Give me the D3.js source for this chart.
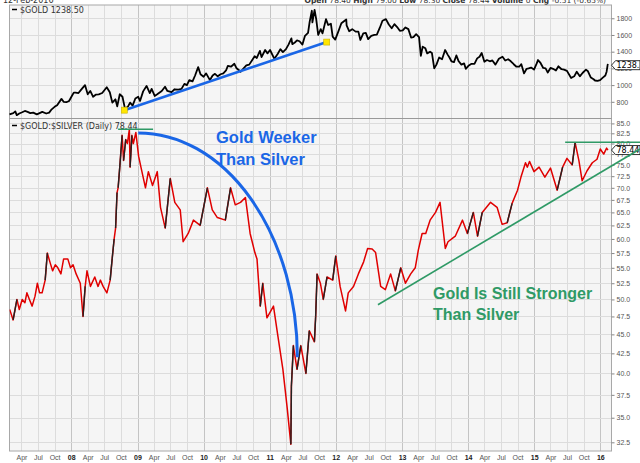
<!DOCTYPE html>
<html><head><meta charset="utf-8">
<script src="https://cdn.jsdelivr.net/npm/d3@7/dist/d3.min.js"></script>
<style>body{margin:0;background:#fff}svg{display:block}</style>
</head><body>
<svg id="c" width="640" height="463"></svg>
<script>
// ---------- DATA ----------
const goldDates = ["2007-01-25","2007-02-15","2007-02-26","2007-03-06","2007-03-20","2007-04-05","2007-04-20","2007-05-05","2007-05-20","2007-06-05","2007-06-25","2007-07-10","2007-07-25","2007-08-16","2007-09-01","2007-09-15","2007-10-01","2007-10-15","2007-11-08","2007-11-20","2007-12-05","2007-12-20",
"2008-01-02","2008-01-15","2008-01-25","2008-02-10","2008-02-25","2008-03-17","2008-04-01","2008-04-15","2008-05-01","2008-05-15","2008-06-01","2008-06-20","2008-07-15","2008-08-01","2008-08-15","2008-09-01","2008-09-11","2008-09-25","2008-10-10","2008-10-24","2008-11-10","2008-11-21","2008-12-05","2008-12-20",
"2009-01-05","2009-01-15","2009-02-01","2009-02-20","2009-03-10","2009-03-20","2009-04-06","2009-04-20","2009-05-15","2009-06-02","2009-06-15","2009-07-08","2009-07-25","2009-08-15","2009-09-01","2009-09-17","2009-10-01","2009-10-14","2009-11-01","2009-11-15","2009-12-02","2009-12-15",
"2010-01-01","2010-01-15","2010-02-05","2010-02-20","2010-03-05","2010-03-20","2010-04-05","2010-04-20","2010-05-05","2010-05-15","2010-06-01","2010-06-20","2010-07-01","2010-07-25","2010-08-10","2010-08-25","2010-09-10","2010-09-25","2010-10-10","2010-10-22","2010-11-08","2010-11-17","2010-12-07","2010-12-20",
"2011-01-03","2011-01-27","2011-02-15","2011-03-01","2011-03-15","2011-04-01","2011-04-15","2011-05-01","2011-05-06","2011-05-20","2011-06-01","2011-06-15","2011-07-01","2011-07-15","2011-08-01","2011-08-10","2011-08-22","2011-08-25","2011-09-06","2011-09-15","2011-09-26","2011-10-10","2011-10-20","2011-11-08","2011-11-20","2011-12-05","2011-12-15","2011-12-29",
"2012-01-15","2012-02-01","2012-02-28","2012-03-01","2012-03-15","2012-04-01","2012-04-20","2012-05-05","2012-05-16","2012-06-01","2012-06-15","2012-06-28","2012-07-15","2012-08-01","2012-08-15","2012-09-01","2012-09-15","2012-10-04","2012-10-20","2012-11-05","2012-11-20","2012-12-05","2012-12-20",
"2013-01-05","2013-01-20","2013-02-05","2013-02-20","2013-03-05","2013-03-20","2013-04-05","2013-04-15","2013-04-25","2013-05-10","2013-05-20","2013-06-05","2013-06-15","2013-06-28","2013-07-10","2013-07-25","2013-08-10","2013-08-27","2013-09-10","2013-09-20","2013-10-01","2013-10-15","2013-10-28","2013-11-10","2013-11-25","2013-12-10","2013-12-19",
"2014-01-05","2014-01-20","2014-02-05","2014-02-20","2014-03-05","2014-03-17","2014-04-01","2014-04-15","2014-05-01","2014-05-15","2014-06-01","2014-06-20","2014-07-10","2014-07-25","2014-08-10","2014-08-25","2014-09-10","2014-09-25","2014-10-10","2014-10-22","2014-11-06","2014-11-20","2014-12-01","2014-12-15","2014-12-31",
"2015-01-15","2015-01-22","2015-02-05","2015-02-20","2015-03-05","2015-03-17","2015-04-01","2015-04-15","2015-05-01","2015-05-15","2015-06-01","2015-06-15","2015-07-01","2015-07-24","2015-08-10","2015-08-24","2015-09-10","2015-09-25","2015-10-14","2015-10-25","2015-11-10","2015-11-25","2015-12-03","2015-12-17","2015-12-31",
"2016-01-15","2016-01-29","2016-02-05","2016-02-11","2016-02-12"];
const goldValues = [650,665,685,640,660,675,690,680,665,670,650,665,680,660,670,710,740,760,835,800,795,810,
860,910,910,905,945,1000,890,930,860,885,890,905,975,915,790,830,745,890,860,715,745,790,755,840,
860,810,925,990,905,955,870,890,930,980,930,915,950,945,955,1015,1000,1060,1045,1115,1215,1130,
1100,1140,1060,1115,1135,1105,1130,1140,1175,1230,1220,1255,1205,1160,1200,1235,1245,1295,1345,1325,1410,1335,1420,1380,
1420,1315,1375,1430,1395,1430,1485,1560,1490,1510,1535,1525,1485,1590,1625,1760,1890,1750,1900,1790,1600,1670,1620,1790,1720,1735,1580,1545,
1640,1740,1785,1715,1645,1670,1640,1640,1540,1620,1625,1550,1590,1600,1605,1690,1770,1790,1725,1680,1730,1695,1650,
1655,1690,1670,1570,1575,1610,1575,1350,1460,1440,1380,1400,1385,1200,1245,1330,1310,1420,1365,1330,1285,1275,1355,1285,1245,1260,1195,
1235,1255,1255,1320,1340,1385,1280,1300,1285,1295,1245,1315,1340,1295,1310,1285,1250,1220,1220,1250,1140,1195,1200,1210,1185,
1260,1300,1265,1205,1200,1150,1205,1195,1175,1225,1190,1185,1170,1085,1105,1160,1105,1145,1185,1165,1090,1070,1055,1050,1060,
1090,1115,1160,1245,1238.5];

const ratioDates = ["2007-01-26","2007-02-14","2007-03-07","2007-03-20","2007-04-05","2007-04-20","2007-05-01","2007-05-15","2007-05-30","2007-06-15","2007-06-28","2007-07-10","2007-07-24","2007-08-10","2007-08-22","2007-09-05","2007-09-20","2007-10-05","2007-10-19","2007-11-05","2007-11-20","2007-12-13","2007-12-28",
"2008-01-11","2008-01-28","2008-02-20","2008-03-06","2008-03-18","2008-03-28","2008-04-16","2008-05-10","2008-05-28","2008-06-10","2008-06-25","2008-07-16","2008-08-03","2008-08-14","2008-08-25","2008-09-02","2008-09-10","2008-09-16","2008-09-25","2008-10-08","2008-10-16","2008-10-28","2008-11-06","2008-11-17","2008-11-21","2008-12-01","2008-12-09","2008-12-23",
"2009-01-07","2009-01-20","2009-02-14","2009-03-02","2009-03-25","2009-04-20","2009-05-08","2009-06-03","2009-07-01","2009-07-26","2009-08-25","2009-09-10","2009-10-08","2009-11-06","2009-12-13",
"2010-01-22","2010-02-18","2010-03-18","2010-05-01","2010-05-30","2010-06-25","2010-07-24","2010-08-20","2010-09-15","2010-10-12","2010-10-23","2010-11-10","2010-11-24","2010-12-17",
"2011-01-22","2011-02-14","2011-03-15","2011-03-28","2011-04-08","2011-04-28","2011-05-01","2011-05-12","2011-06-01","2011-06-22","2011-07-20","2011-08-08","2011-09-05","2011-09-12","2011-09-20","2011-10-08","2011-10-24","2011-11-14","2011-12-15",
"2012-01-01","2012-01-25","2012-02-24","2012-03-10","2012-04-08","2012-05-05","2012-06-03","2012-06-25","2012-07-20","2012-08-08","2012-09-05","2012-10-01","2012-10-30","2012-11-25","2012-12-25",
"2013-01-20","2013-02-18","2013-03-15","2013-04-01","2013-04-22","2013-05-12","2013-06-05","2013-07-05","2013-07-30","2013-08-28","2013-09-12","2013-10-22","2013-12-01","2013-12-28",
"2014-01-30","2014-02-22","2014-03-20","2014-05-05","2014-06-10","2014-07-08","2014-08-05","2014-09-01","2014-10-01","2014-10-20","2014-11-14","2014-11-24","2014-12-06","2014-12-31",
"2015-01-28","2015-03-01","2015-04-01","2015-05-08","2015-06-07","2015-07-01","2015-07-30","2015-08-15","2015-09-05","2015-09-23","2015-10-20","2015-11-18","2015-12-14",
"2016-01-01","2016-01-20","2016-02-05","2016-02-12"];
const ratioValues = [48.5,47,50,48.5,50,49.5,51,50,49,50.5,52.5,51,51,53,57.5,56,54.5,55.5,55,54,56.5,56.5,55,
55.5,54,52.5,47.5,52,54.5,52,53.5,52,53,52,51,53,56.5,60,62,69,70,74.5,82,76,81,80,83.5,74.5,82,80,82.7,
77,74.5,70,73.5,70.5,73.5,66,62,72,67,65.5,59.5,61,63.5,62.5,
70,65.5,64,63.5,70,66.5,67,68,61,57.5,56.5,49,52.5,47.3,
49,45,40.5,38,36,32.3,38.5,43.5,40.5,43.5,40,45.5,44,47.5,54,52.5,50,53.5,53,
57,52,48.3,51,52,54,56,58.3,58.2,57.6,52,51.5,54,51.3,55,
52.5,54,55,58,61,61,63.5,65,67,58.3,59.5,60.5,63.5,61,
65,60.5,65,67,66,62.7,63,66.8,69.5,72.3,75.5,74.5,75.8,73.5,
74.5,72.3,74.3,69.5,74.5,76.5,75,80.2,76,71.5,73.7,75.5,76.3,
78.7,77.5,78.9,78.44];

const goldTicks = [800,1000,1200,1400,1600,1800];
const ratioTicks = [32.5,35,37.5,40,42.5,45,47.5,50,52.5,55,57.5,60,62.5,65,67.5,70,72.5,75,77.5,80,82.5,85];
const monthNames = ["Jan","Feb","Mar","Apr","May","Jun","Jul","Aug","Sep","Oct","Nov","Dec"];

// annotation anchors (data coordinates)
const goldTrend = [["2008-10-20",700],["2011-11-12",1515]];
const ratioSupport = [["2012-08-21",49.2],["2016-08-10",78.7]];
const ratioResistance = [["2015-06-21",80.3],["2016-08-10",80.3]];
const ratioPeakLine = [["2008-09-16",83.5],["2009-03-28",83.5]];
const ratioArc = [["2009-01-05",82.6],["2011-06-03",42.0]];

// ---------- LAYOUT ----------
const parse = d3.timeParse("%Y-%m-%d");
const L = 9.5, R = 611.5, T = 5, MID = 118, B = 451;
const svg = d3.select("#c");
const FONT = "'DejaVu Sans', Verdana, sans-serif";
const AX = "'Liberation Sans', Arial, sans-serif";

const x = d3.scaleTime().domain([new Date(2007,0,25), new Date(2016,2,3)]).range([L, R]);
const yG = d3.scaleLinear().domain([606, 1959]).range([MID, T]);
const yR = d3.scaleLog().domain([31.66, 86.4]).range([B, MID]);

const gold = goldDates.map((d,i)=>({date:parse(d), v:goldValues[i]}));
const ratio = ratioDates.map((d,i)=>({date:parse(d), v:ratioValues[i]}));

// backgrounds
svg.append("rect").attr("width",640).attr("height",463).attr("fill","#fff");
svg.append("rect").attr("x",L).attr("y",T).attr("width",R-L).attr("height",B-T).attr("fill","#f5f5f5");

// grid
const quarters = d3.timeMonths(new Date(2007,3,1), new Date(2016,1,1), 3);
const grid = svg.append("g");
grid.selectAll("line.v").data(quarters).join("line")
  .attr("x1",d=>Math.round(x(d))+0.5).attr("x2",d=>Math.round(x(d))+0.5)
  .attr("y1",T).attr("y2",B)
  .attr("stroke",d=>d.getMonth()===0?"#c4c4c4":"#dcdcdc").attr("stroke-width",1);
grid.selectAll("line.hg").data(goldTicks).join("line")
  .attr("x1",L).attr("x2",R).attr("y1",d=>Math.round(yG(d))+0.5).attr("y2",d=>Math.round(yG(d))+0.5)
  .attr("stroke","#dcdcdc");
grid.append("g").selectAll("line").data(ratioTicks).join("line")
  .attr("x1",L).attr("x2",R).attr("y1",d=>Math.round(yR(d))+0.5).attr("y2",d=>Math.round(yR(d))+0.5)
  .attr("stroke","#dcdcdc");

// borders
svg.append("rect").attr("x",L).attr("y",T).attr("width",R-L).attr("height",B-T)
  .attr("fill","none").attr("stroke","#a8a8a8");
svg.append("line").attr("x1",L).attr("x2",R).attr("y1",MID+0.5).attr("y2",MID+0.5).attr("stroke","#999");

// axes
function styleAxis(g){
  g.select(".domain").remove();
  g.selectAll(".tick line").attr("stroke","#888");
  g.selectAll("text").attr("font-family",AX).attr("font-size",7).attr("fill","#555");
}
svg.append("g").attr("transform",`translate(${R},0)`)
  .call(d3.axisRight(yG).tickValues(goldTicks).tickSize(3).tickPadding(2).tickFormat(d3.format("d")))
  .call(styleAxis);
svg.append("g").attr("transform",`translate(${R},0)`)
  .call(d3.axisRight(yR).tickValues(ratioTicks).tickSize(3).tickPadding(2).tickFormat(d3.format(".1f")))
  .call(styleAxis);
const xa = svg.append("g").attr("transform",`translate(0,${B})`)
  .call(d3.axisBottom(x).tickValues(quarters).tickSize(0).tickPadding(4)
    .tickFormat(d=>d.getMonth()===0 ? d3.timeFormat("%y")(d) : monthNames[d.getMonth()]))
  .call(styleAxis);
xa.selectAll("text").filter(d=>d.getMonth()===0).attr("font-weight","bold").attr("fill","#222");

// clip
svg.append("clipPath").attr("id","cp").append("rect").attr("x",L).attr("y",T).attr("width",R-L).attr("height",B-T);

// gold line
svg.append("path").datum(gold)
  .attr("d",d3.line().x(d=>x(d.date)).y(d=>yG(d.v)))
  .attr("fill","none").attr("stroke","#000").attr("stroke-width",1.8).attr("stroke-linejoin","round");

// ratio line (red, black on strong up-moves)
const rg = svg.append("g").attr("clip-path","url(#cp)");
rg.append("path").datum(ratio)
  .attr("d",d3.line().x(d=>x(d.date)).y(d=>yR(d.v)))
  .attr("fill","none").attr("stroke","#e00000").attr("stroke-width",1.5).attr("stroke-linejoin","round");
const ups = d3.pairs(ratio).filter(([a,b])=>b.v > a.v*1.06);
rg.selectAll("line.up").data(ups).join("line")
  .attr("x1",d=>x(d[0].date)).attr("y1",d=>yR(d[0].v)).attr("x2",d=>x(d[1].date)).attr("y2",d=>yR(d[1].v))
  .attr("stroke","#222").attr("stroke-width",1.4);

// legends
svg.append("line").attr("x1",12).attr("x2",17).attr("y1",9.5).attr("y2",9.5).attr("stroke","#000").attr("stroke-width",1.5);
svg.append("text").attr("x",20).attr("y",12.5).attr("font-family",FONT).attr("font-size",8).attr("fill","#333")
  .text("$GOLD " + d3.format(".2f")(goldValues[goldValues.length-1]));
svg.append("line").attr("x1",12).attr("x2",17).attr("y1",125.5).attr("y2",125.5).attr("stroke","#000").attr("stroke-width",1.5);
svg.append("text").attr("x",20).attr("y",128.5).attr("font-family",FONT).attr("font-size",8).attr("fill","#333")
  .text("$GOLD:$SILVER (Daily) " + d3.format(".2f")(ratioValues[ratioValues.length-1]));

// header (cut off at top, as in the original capture)
svg.append("text").attr("x",3).attr("y",3).attr("font-family",FONT).attr("font-size",8).attr("fill","#333").text("12-Feb-2016");
const hdr = svg.append("text").attr("x",606).attr("y",3).attr("text-anchor","end").attr("font-family",FONT).attr("font-size",7.5).attr("fill","#333");
[["Open ",1],["78.40 ",0],["High ",1],["79.00 ",0],["Low ",1],["78.30 ",0],["Close ",1],["78.44 ",0],["Volume ",1],["0 ",0],["Chg ",1],["-0.51 (-0.65%)",0]]
  .forEach(([t,b])=>hdr.append("tspan").attr("font-weight",b?"bold":"normal").text(t));

// value tags
function tag(yv, label){
  const g = svg.append("g");
  g.append("path").attr("d",`M${R},${yv} L${R+4},${yv-4.5} L640,${yv-4.5} L640,${yv+4.5} L${R+4},${yv+4.5} Z`)
    .attr("fill","#fff").attr("stroke","#000").attr("stroke-width",0.8);
  g.append("text").attr("x",R+5).attr("y",yv+3).attr("font-family",FONT).attr("font-size",8).attr("fill","#000").text(label);
}
tag(yG(goldValues[goldValues.length-1]), d3.format(".2f")(goldValues[goldValues.length-1]));
tag(yR(ratioValues[ratioValues.length-1]), d3.format(".2f")(ratioValues[ratioValues.length-1]));

// ---------- ANNOTATIONS ----------
const BLUE = "#1a66e6", GREEN = "#2f9a66";
const gp = goldTrend.map(([d,v])=>[x(parse(d)), yG(v)]);
svg.append("line").attr("x1",gp[0][0]).attr("y1",gp[0][1]).attr("x2",gp[1][0]).attr("y2",gp[1][1])
  .attr("stroke",BLUE).attr("stroke-width",2.6);
svg.selectAll("rect.sq").data(gp).join("rect")
  .attr("x",d=>d[0]-3).attr("y",d=>d[1]-3).attr("width",6).attr("height",6)
  .attr("fill","#ffe600").attr("stroke","#c9b200").attr("stroke-width",0.6);

function seg(pts, scale, w){
  const p = pts.map(([d,v])=>[x(parse(d)), scale(v)]);
  svg.append("line").attr("x1",p[0][0]).attr("y1",p[0][1]).attr("x2",Math.min(640,p[1][0])).attr("y2",p[1][1])
    .attr("stroke",GREEN).attr("stroke-width",w);
}
seg(ratioSupport, yR, 1.6);
seg(ratioResistance, yR, 1.6);
seg(ratioPeakLine, yR, 1.4);

const ap = ratioArc.map(([d,v])=>[x(parse(d)), yR(v)]);
svg.append("path")
  .attr("d",`M${ap[0][0]},${ap[0][1]} A${ap[1][0]-ap[0][0]},${ap[1][1]-ap[0][1]} 0 0 1 ${ap[1][0]},${ap[1][1]}`)
  .attr("fill","none").attr("stroke",BLUE).attr("stroke-width",3);

const ann = svg.append("g").attr("font-family","'Liberation Sans', Arial, sans-serif").attr("font-weight","bold").attr("font-size",16.5);
ann.append("text").attr("x",216).attr("y",143).attr("fill",BLUE).text("Gold Weeker");
ann.append("text").attr("x",216).attr("y",165).attr("fill",BLUE).text("Than Silver");
ann.append("text").attr("x",433).attr("y",299).attr("fill",GREEN).attr("font-size",16).text("Gold Is Still Stronger");
ann.append("text").attr("x",433).attr("y",320).attr("fill",GREEN).attr("font-size",16).text("Than Silver");
</script>
</body></html>
